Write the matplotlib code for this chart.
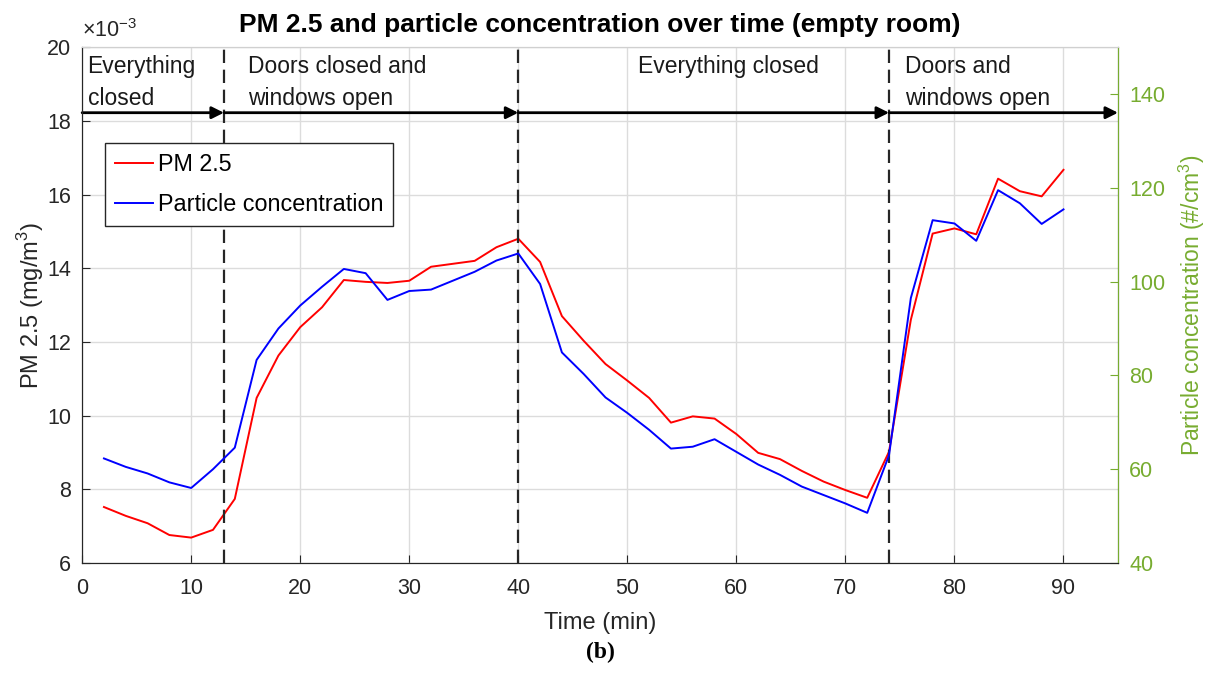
"""
    PM 2.5 and particle concentration over time in an empty room,
    with the door / window phases marked along the top.
"""

import numpy as np
import matplotlib
matplotlib.use('Agg')
import matplotlib.pyplot as plt
from matplotlib.ticker import FuncFormatter

plt.rcParams['font.family'] = ['Liberation Sans', 'DejaVu Sans']
plt.rcParams['mathtext.fontset'] = 'custom'
plt.rcParams['mathtext.rm'] = 'Liberation Sans'

#Data (time in min)
time = np.arange(2, 92, 2)
pm25 = np.array([7.52, 7.28, 7.08, 6.76, 6.69, 6.90, 7.74, 10.48, 11.63, 12.40,
                 12.94, 13.68, 13.63, 13.60, 13.66, 14.04, 14.12, 14.20, 14.57, 14.80,
                 14.17, 12.70, 12.03, 11.40, 10.95, 10.48, 9.81, 9.98, 9.92, 9.50,
                 8.99, 8.82, 8.50, 8.21, 7.98, 7.77, 9.02, 12.60, 14.94, 15.08,
                 14.92, 16.43, 16.09, 15.95, 16.67]) * 1e-3
particles = np.array([62.3, 60.5, 59.1, 57.2, 56.0, 60.0, 64.6, 83.3, 90.0, 94.9,
                      98.9, 102.7, 101.8, 96.1, 98.0, 98.3, 100.2, 102.1, 104.5, 106.0,
                      99.5, 84.9, 80.3, 75.3, 72.0, 68.4, 64.4, 64.8, 66.4, 63.7,
                      61.0, 58.8, 56.3, 54.5, 52.7, 50.7, 63.0, 96.5, 113.1, 112.4,
                      108.7, 119.5, 116.7, 112.3, 115.4])

#Phases: boundaries and labels
phase_edges = [0, 13, 40, 74, 95]
phase_labels = ['Everything\nclosed', 'Doors closed and\nwindows open',
                'Everything closed', 'Doors and\nwindows open']
label_x = [0.5, 15.2, 51.0, 75.5]

green = '#77AC30'

fig = plt.figure(figsize=(12.08, 6.73), dpi=100)
ax1 = fig.add_axes([0.068, 0.1634, 0.8575, 0.7666])
ax2 = ax1.twinx()

l1, = ax1.plot(time, pm25, color='#FF0000', lw=1.4, label='PM 2.5')
l2, = ax2.plot(time, particles, color='#0000FF', lw=1.4, label='Particle concentration')

#Phase separators and arrows
for xb in phase_edges[1:-1]:
    ax1.axvline(xb, color='#262626', lw=1.6, ls=(0, (6, 3)), zorder=3)
for i in range(len(phase_edges) - 1):
    ax1.annotate('', xy=(phase_edges[i + 1], 18.22e-3), xytext=(phase_edges[i], 18.22e-3),
                 arrowprops=dict(arrowstyle='-|>', color='black', lw=2,
                                 shrinkA=0, shrinkB=0, mutation_scale=18))
for xt, txt in zip(label_x, phase_labels):
    ax1.text(xt, 19.78e-3, txt, fontsize=16.5, va='top', ha='left', linespacing=1.5,
             color='#1a1a1a')

ax1.set_xlim(0, 95)
ax1.set_ylim(6e-3, 20e-3)
ax2.set_ylim(40, 150)
ax1.set_xticks(np.arange(0, 100, 10))
ax1.set_yticks(np.arange(6, 21, 2) * 1e-3)
ax2.set_yticks(np.arange(40, 160, 20))
ax1.yaxis.set_major_formatter(FuncFormatter(lambda v, pos: f'{v * 1e3:.0f}'))
ax1.text(0, 1.01, r'$\times10^{-3}$', transform=ax1.transAxes, fontsize=15.5,
         ha='left', va='bottom', color='#262626')

ax1.grid(True, color='#dcdcdc', lw=1)
ax1.set_axisbelow(True)
ax1.tick_params(direction='in', labelsize=15.5, length=6, colors='#262626')
ax1.tick_params(axis='x', pad=11)
ax1.tick_params(axis='y', pad=8)
ax2.tick_params(direction='in', labelsize=15.5, length=6, colors=green, pad=8)
ax2.spines['right'].set_color(green)
for ax in (ax1, ax2):
    ax.spines['top'].set_color('#d0d0d0')
    ax.spines['left'].set_color('#262626')
    ax.spines['bottom'].set_color('#262626')

ax1.set_xlabel('Time (min)', fontsize=17, color='#262626', labelpad=9)
ax1.set_ylabel('PM 2.5 (mg/m$^3$)', fontsize=17, color='#262626', labelpad=1)
ax2.set_ylabel('Particle concentration (#/cm$^3$)', fontsize=16.5, color=green,
               labelpad=8)
ax1.set_title('PM 2.5 and particle concentration over time (empty room)',
              fontsize=19, fontweight='bold', pad=11)

leg = ax2.legend(handles=[l1, l2], loc='upper left', bbox_to_anchor=(0.022, 0.814),
                 fontsize=16.8, fancybox=False, framealpha=1, edgecolor='#262626',
                 borderaxespad=0, handlelength=1.65, handletextpad=0.2,
                 labelspacing=0.75, borderpad=0.42)
leg.get_frame().set_linewidth(1)

fig.text(0.497, 0.022, '(b)', fontsize=17, fontweight='bold', ha='center',
         family=['Liberation Serif', 'DejaVu Serif'])

fig.savefig('out.png', dpi=100)
